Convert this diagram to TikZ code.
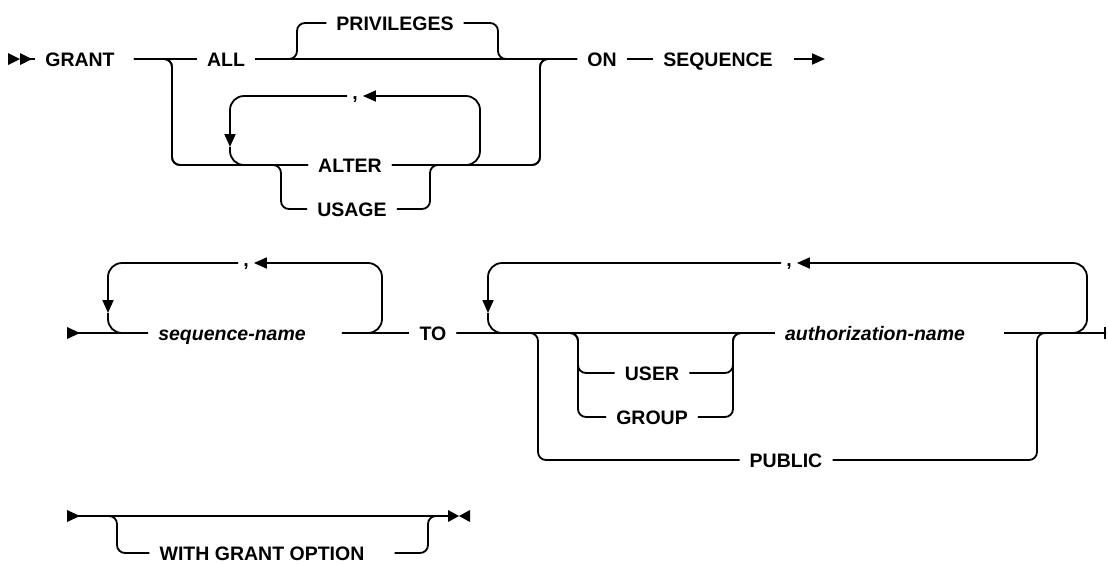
\documentclass[tikz,border=0pt]{standalone}
\usepackage{fontspec}
\setmainfont{Liberation Sans}
\usetikzlibrary{arrows.meta}
\tikzset{
  kw/.style={
    inner sep=0pt,
    inner xsep=10pt,
    text height=14pt,
    text depth=0pt,
    font=\fontsize{19.5}{22}\selectfont\bfseries
  },
  var/.style={
    kw,
    font=\fontsize{19.5}{22}\selectfont\bfseries\itshape
  },
  sepmark/.style={
    anchor=north,
    inner sep=0pt,
    inner xsep=5pt,
    font=\fontsize{19.5}{22}\selectfont\bfseries
  },
  rail/.style={line width=1.8pt, rounded corners=8pt},
  repline/.style={rail, rounded corners=14pt},
  reparrow/.style={repline, -{Triangle[length=13pt,width=11pt]}},
  endarrow/.style={rail, -{Triangle[length=13pt,width=11pt]}},
  endbar/.style={rail, -{Bar[width=12pt]}}
}

\begin{document}
\begin{tikzpicture}[x=1pt,y=-1pt]
\useasboundingbox (0,0) rectangle (1108,563);

\node[kw] (grant) at (80,59) {GRANT};
\node[kw] (all) at (226,59) {ALL};
\node[kw] (priv) at (395,23) {PRIVILEGES};
\node[sepmark] (comma1) at (355,96) {,};
\node[kw] (alter) at (350,165) {ALTER};
\node[kw] (usage) at (352,209) {USAGE};
\node[kw] (on) at (602,59) {ON};
\node[kw] (seq) at (718,59) {SEQUENCE};
\coordinate (start1) at (26,59);
\coordinate (grant-out) at ([xshift=9pt]grant.east);
\coordinate (seq-out) at ([xshift=11pt]seq.east);
\coordinate (end1) at (825,59);

\fill (8,53) -- (20,59) -- (8,65) -- cycle;
\fill (20,53) -- (32,59) -- (20,65) -- cycle;
\draw[rail] (start1) -- (grant.west);
\draw[rail] (grant-out) -- (all.west);
\draw[rail] (all.east) -- (on.west);
\draw[rail] (all.east) -| (297,23) -- (priv.west);
\draw[rail] (priv.east) -| (498,59) -- (on.west);
\draw[rail] (grant-out) -| (172,165) -- (alter.west);
\draw[rail] (grant-out) -| (172,165) -| (281,209) -- (usage.west);
\draw[rail] (alter.east) -| (540,59) -- (on.west);
\draw[rail] (usage.east) -| (430,165) -| (540,59) -- (on.west);
\draw[reparrow] (alter.east) -| (480,96) -- (comma1.north east);
\draw[reparrow] (comma1.north west) -| (230,147);
\draw[repline] (230,147) |- (alter.west);
\draw[rail] (on.east) -- (seq.west);
\draw[endarrow] (seq-out) -- (end1);

\node[var] (seqname) at (232,333) {sequence-name};
\node[sepmark] (comma2) at (246,263) {,};
\node[kw] (to) at (433,333) {TO};
\node[kw] (user) at (652,373) {USER};
\node[kw] (group) at (652,417) {GROUP};
\node[var] (authname) at (875,333) {authorization-name};
\node[sepmark] (comma3) at (789,263) {,};
\node[kw] (public) at (786,460) {PUBLIC};
\coordinate (start2) at (72,333);
\coordinate (seqname-out) at ([xshift=26pt]seqname.east);
\coordinate (authname-out) at ([xshift=29pt]authname.east);
\coordinate (end2) at (1106,333);

\fill (67,327) -- (80,333) -- (67,339) -- cycle;
\draw[rail] (start2) -- (seqname.west);
\draw[rail] (seqname-out) -- (to.west);
\draw[reparrow] (seqname-out) -| (382,263) -- (comma2.north east);
\draw[reparrow] (comma2.north west) -| (108,313);
\draw[repline] (108,313) |- (seqname.west);
\draw[rail] (to.east) -- (authname.west);
\draw[rail] (to.east) -| (578,373) -- (user.west);
\draw[rail] (to.east) -| (578,417) -- (group.west);
\draw[rail] (user.east) -| (733,333) -- (authname.west);
\draw[rail] (group.east) -| (733,333) -- (authname.west);
\draw[rail] (to.east) -| (538,460) -- (public.west);
\draw[rail] (public.east) -| (1037,333) -- (end2);
\draw[endbar] (authname-out) -- (end2);
\draw[reparrow] (authname-out) -| (1087,263) -- (comma3.north east);
\draw[reparrow] (comma3.north west) -| (488,313);
\draw[repline] (488,313) |- (authname.west);

\node[kw] (wgo) at (262,553) {WITH GRANT OPTION};
\coordinate (start3) at (72,516);
\coordinate (wgo-out) at ([xshift=20pt]wgo.east);
\coordinate (end3) at (452,516);

\fill (67,510) -- (80,516) -- (67,522) -- cycle;
\draw[rail] (start3) -- (end3);
\draw[rail] (start3) -| (117,553) -- (wgo.west);
\draw[rail] (wgo-out) -| (428,516) -- (end3);
\fill (448,510) -- (459,516) -- (448,522) -- cycle;
\fill (470,510) -- (459,516) -- (470,522) -- cycle;
\end{tikzpicture}
\end{document}
